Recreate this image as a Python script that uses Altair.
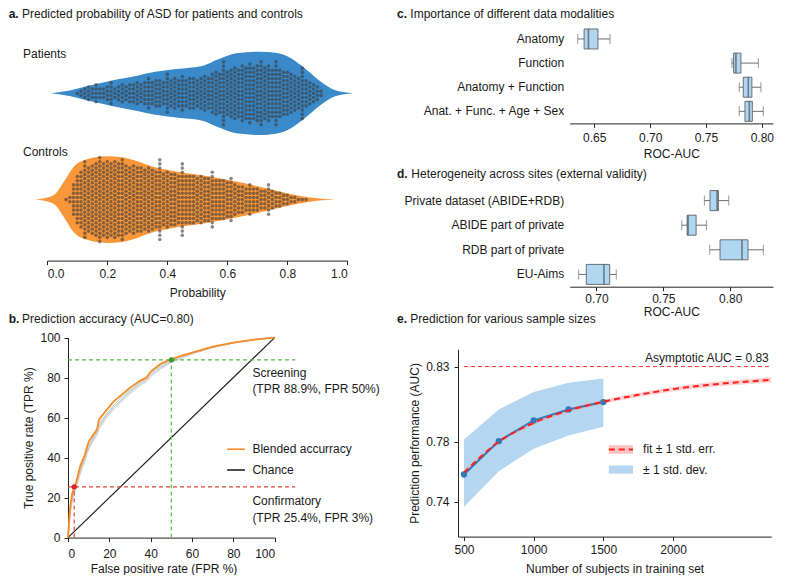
import altair as alt
import pandas as pd

FONT = "Liberation Sans"
INK = "#1a1a1a"
BLUE = "#3a89c9"
ORANGE = "#f9973a"

# ---------------- panel a : predicted probability (violin + swarm) ----------------
BIN_STEP = 0.0125
PAT_FIRST_BIN = 0.10
PAT_COUNTS = [1, 2, 3, 4, 3, 5, 3, 3, 4, 6, 3, 4, 5, 4, 5, 5, 6, 5, 6, 8,
              6, 7, 7, 6, 10, 7, 8, 7, 9, 7, 8, 8, 7, 8, 9, 8, 10, 11, 10, 16,
              11, 12, 13, 12, 14, 13, 15, 13, 14, 16, 13, 14, 12, 16, 12, 11, 11, 10, 9, 8,
              13, 7, 6, 5, 4, 2]
CTL_FIRST_BIN = 0.0625
CTL_COUNTS = [1, 2, 8, 12, 14, 19, 16, 17, 18, 21, 18, 19, 18, 19, 18, 20, 17, 16, 17, 16,
              16, 15, 16, 15, 14, 20, 13, 14, 13, 13, 12, 18, 12, 12, 12, 11, 12, 11, 11, 14,
              10, 10, 10, 9, 11, 8, 7, 7, 6, 8, 6, 6, 5, 5, 8, 5, 4, 4, 3, 3,
              2, 2, 1, 1, 1]
PAT_V_X = [0.013, 0.074, 0.13, 0.19, 0.24, 0.30, 0.36, 0.43, 0.52, 0.57, 0.63, 0.71, 0.76, 0.80, 0.85, 0.91, 0.96, 1.02]
PAT_V_D = [0, 2.7, 7, 11, 14.3, 17.7, 21.5, 24.3, 27.7, 34, 40, 41.7, 40.5, 37, 27, 12, 3, 0]
CTL_V_X = [-0.04, 0.019, 0.058, 0.086, 0.13, 0.197, 0.25, 0.30, 0.35, 0.41, 0.52, 0.63, 0.74, 0.81, 0.87, 0.96]
CTL_V_D = [0, 4, 19, 32, 40, 43.3, 42.3, 38.3, 33, 29, 24, 18, 10.7, 5.7, 2.3, 0]
GROUPS = ["Patients", "Controls"]
PROB_TICKS = [0, 0.2, 0.4, 0.6, 0.8, 1.0]

# ---------------- panel b : ROC ----------------
B_FPR = [0, 1, 2, 4, 6, 8, 10, 12, 14, 15, 18, 22, 26, 30, 35, 38, 40, 45, 50, 55, 60, 70, 80, 90, 100]
B_BLEND = [0, 15, 22, 28, 36, 41, 48, 51, 54, 59, 63, 68, 71.5, 75, 78.5, 80, 83, 87, 89.3, 91, 92.5, 95.5, 97.5, 99, 100]
B_FOLDS = [
    [0, 12, 19, 26, 33, 39, 45, 49, 52, 55, 60, 65, 69, 73, 77, 79, 81, 85, 87.8, 90, 92, 95, 97.3, 99, 100],
    [0, 13, 20, 27, 34, 40, 46, 50, 53, 56, 61, 66, 70, 73.5, 77.5, 79.5, 82, 86, 88.5, 90.5, 92.3, 95.3, 97.5, 99, 100],
    [0, 11, 18, 25, 32, 38, 44, 48, 51, 54, 59, 64, 68, 72, 76, 78, 80.5, 84.5, 87.5, 89.8, 91.8, 95, 97.2, 98.8, 100],
    [0, 14, 21, 27, 35, 40, 46, 50, 53, 57, 61, 66, 70.5, 74, 78, 80, 82.5, 86.5, 88.8, 90.7, 92.3, 95.3, 97.5, 99, 100],
    [0, 12, 18, 26, 33, 38, 45, 49, 52, 55, 60, 64, 69, 72.5, 76.5, 78.5, 81, 85.5, 88, 90.3, 92, 95, 97.3, 99, 100],
    [0, 13, 19, 26, 34, 39, 45, 49, 53, 56, 60, 65, 69, 73, 77, 79, 81.5, 85.5, 88, 90.2, 92, 95.2, 97.4, 99, 100],
]
FOLD_COLORS = ["#a6cee3", "#b2df8a", "#cab2d6", "#9ecae1", "#c7e9c0", "#d4b9da"]
SCREEN_FPR, SCREEN_TPR = 50, 88.9
CONF_FPR, CONF_TPR = 3, 25.4
B_TICKS = [0, 20, 40, 60, 80, 100]

# ---------------- panel c / d : box plots ----------------
C_LABELS = ["Anatomy", "Function", "Anatomy + Function", "Anat. + Func. + Age + Sex"]
C_LO = [0.6352, 0.7732, 0.7798, 0.7798]
C_Q1 = [0.6409, 0.7747, 0.7834, 0.7849]
C_MED = [0.6448, 0.7768, 0.7879, 0.7888]
C_Q3 = [0.6533, 0.7813, 0.7911, 0.7915]
C_HI = [0.6641, 0.7969, 0.7992, 0.8013]
C_TICKS = [0.65, 0.70, 0.75, 0.80]

D_LABELS = ["Private dataset (ABIDE+RDB)", "ABIDE part of private", "RDB part of private", "EU-Aims"]
D_LO = [0.7807, 0.7638, 0.7847, 0.6867]
D_Q1 = [0.7849, 0.7678, 0.7924, 0.6924]
D_MED = [0.7902, 0.7685, 0.8088, 0.7056]
D_Q3 = [0.7912, 0.7745, 0.8133, 0.7099]
D_HI = [0.7989, 0.7822, 0.8248, 0.7148]
D_TICKS = [0.70, 0.75, 0.80]

# ---------------- panel e : sample sizes ----------------
E_N = [500, 750, 1000, 1250, 1500]
E_MEAN = [0.7582, 0.7804, 0.7942, 0.8015, 0.8064]
E_SD_LO = [0.7367, 0.7604, 0.7753, 0.7842, 0.7900]
E_SD_HI = [0.7815, 0.8015, 0.8131, 0.8193, 0.8220]
FIT_N = [500, 750, 1000, 1250, 1500, 1750, 2000, 2250, 2500, 2705]
FIT = [0.7595, 0.7800, 0.7925, 0.8008, 0.8066, 0.8112, 0.8150, 0.8178, 0.8198, 0.8212]
FIT_SE = [0.0012, 0.0012, 0.0012, 0.0012, 0.0013, 0.0014, 0.0015, 0.0016, 0.0017, 0.0018]
ASYMPTOTE = 0.83
E_XTICKS = [500, 1000, 1500, 2000]
E_YTICKS = [0.74, 0.78, 0.83]

BOX_FILL = "#b1d6f2"
BOX_EDGE = "#6a6f75"
MED_COL = "#4d5258"
GREEN_L, GREEN_D = "#55b848", "#2ca02c"
RED_L, RED_D = "#e2453c", "#d62728"
BLEND_COL = "#fb8c24"

# ---------------- panel frames (pixels inside one shared drawing area) ----------------
W, H = 765, 530
A_X, A_Y = (39.3, 339.3), (252.6, 18.9)
B_X, B_Y = (60.0, 266.7), (529.6, 329.6)
C_X, C_Y = (561.7, 765.0), (18.9, 115.4)
D_X, D_Y = (561.7, 765.0), (180.3, 278.7)
E_X, E_Y = (450.0, 763.3), (528.6, 341.3)


def title_layer(letter, text, lx, tx, y):
    l1 = alt.Chart(pd.DataFrame({"t": [letter]})).mark_text(
        fontWeight="bold", align="left", baseline="middle", fontSize=12, color=INK
    ).encode(x=alt.value(lx), y=alt.value(y), text="t:N")
    l2 = alt.Chart(pd.DataFrame({"t": [text]})).mark_text(
        align="left", baseline="middle", fontSize=12, color=INK
    ).encode(x=alt.value(tx), y=alt.value(y), text="t:N")
    return l1 + l2


# ======== panel a ========
vdf = pd.DataFrame([{"grp": "Patients", "prob": x, "d": d} for x, d in zip(PAT_V_X, PAT_V_D)] +
                   [{"grp": "Controls", "prob": x, "d": d} for x, d in zip(CTL_V_X, CTL_V_D)])
drows = []
for g, first, counts in (("Patients", PAT_FIRST_BIN, PAT_COUNTS), ("Controls", CTL_FIRST_BIN, CTL_COUNTS)):
    for i, n in enumerate(counts):
        for k in range(n):
            drows.append({"grp": g, "prob": round(first + i * BIN_STEP, 4), "k": k, "n": n})
ddf = pd.DataFrame(drows)

A_UNIT = 106.3  # px between the two group centres
XA_SCALE = alt.Scale(domain=[0, 1], range=list(A_X), nice=False)
XA = alt.X("prob:Q", scale=XA_SCALE,
           axis=alt.Axis(orient="bottom", offset=A_Y[0] - H, values=PROB_TICKS, format=".1f",
                         title="Probability", labelPadding=3.5, titlePadding=8))
YA_SCALE = alt.Scale(domain=[-0.574, 1.625], range=list(A_Y), nice=False, zero=False)
YA = alt.Y("yy:Q", scale=YA_SCALE, axis=None)


def violin_layer(grp, color):
    return alt.Chart(vdf).transform_filter(f"datum.grp == '{grp}'").transform_calculate(
        c="datum.grp == 'Patients' ? 1 : 0",
        top=f"datum.c + datum.d / {A_UNIT}",
        bot=f"datum.c - datum.d / {A_UNIT}",
    ).mark_area(interpolate="monotone", color=color, opacity=1).encode(
        x=XA, y=alt.Y("top:Q", scale=YA_SCALE, axis=None, stack=False), y2="bot:Q")


dots = alt.Chart(ddf).transform_calculate(
    yy=f"(datum.grp == 'Patients' ? 1 : 0) + (datum.k - (datum.n - 1) / 2) * {4.2 / A_UNIT}"
).mark_circle(size=13, color="#3a3a3a", opacity=0.6).encode(x=XA, y=YA)
alab = alt.Chart(pd.DataFrame({"prob": [-0.081, -0.081], "yy": [1.37, 0.445], "t": GROUPS})).mark_text(
    align="left", baseline="middle", fontSize=12, color=INK
).encode(x=XA, y=YA, text="t:N")
panel_a = alt.layer(violin_layer("Patients", BLUE), violin_layer("Controls", ORANGE), dots, alab,
                    title_layer("a.", "Predicted probability of ASD for patients and controls", 0.7, 14, 6.0))

# ======== panel b ========
XB = alt.X("x:Q", scale=alt.Scale(domain=[0, 100], range=list(B_X), nice=False),
           axis=alt.Axis(orient="bottom", offset=B_Y[0] - H, values=B_TICKS, title="False positive rate (FPR %)",
                         labelPadding=7, titlePadding=4, titleX=155.5))
YB = alt.Y("y:Q", scale=alt.Scale(domain=[0, 100], range=list(B_Y), nice=False),
           axis=alt.Axis(orient="left", offset=-B_X[0], values=B_TICKS, title="True positive rate (TPR %)",
                         labelPadding=4, titlePadding=4))
fold_layers = [
    alt.Chart(pd.DataFrame({"x": B_FPR, "y": curve})).mark_line(strokeWidth=0.8, color=col, opacity=0.9).encode(x=XB, y=YB)
    for curve, col in zip(B_FOLDS, FOLD_COLORS)
]
chance = alt.Chart(pd.DataFrame({"x": [0, 100], "y": [0, 100]})).mark_line(color="#222222", strokeWidth=1.2).encode(x=XB, y=YB)
blend = alt.Chart(pd.DataFrame({"x": B_FPR, "y": B_BLEND})).mark_line(color=BLEND_COL, strokeWidth=1.8).encode(x=XB, y=YB)


def guide_layer(fpr, tpr, color):
    df = pd.DataFrame({"x": [0, fpr], "x2": [110, fpr], "y": [tpr, 0], "y2": [tpr, tpr]})
    return alt.Chart(df).mark_rule(strokeDash=[4, 3], strokeWidth=1.2, color=color).encode(
        x=XB, x2="x2:Q", y=YB, y2="y2:Q")


def op_dot(fpr, tpr, color):
    return alt.Chart(pd.DataFrame({"x": [fpr], "y": [tpr]})).mark_circle(size=28, opacity=1, color=color).encode(x=XB, y=YB)


def leg_seg(y, color):
    return alt.Chart(pd.DataFrame({"x": [77], "x2": [85.6], "y": [y]})).mark_rule(strokeWidth=1.6, color=color).encode(
        x=XB, x2="x2:Q", y=YB)


btext = alt.Chart(pd.DataFrame({
    "x": [89.2] * 6,
    "y": [82.2, 74.2, 18.3, 10, 44.2, 33.8],
    "t": ["Screening", "(TPR 88.9%, FPR 50%)", "Confirmatory", "(TPR 25.4%, FPR 3%)", "Blended accurracy", "Chance"],
})).mark_text(align="left", baseline="middle", fontSize=12, color=INK).encode(x=XB, y=YB, text="t:N")
panel_b = alt.layer(*fold_layers, chance, guide_layer(SCREEN_FPR, SCREEN_TPR, GREEN_L),
                    guide_layer(CONF_FPR, CONF_TPR, RED_L), blend,
                    op_dot(SCREEN_FPR, SCREEN_TPR, GREEN_D), op_dot(CONF_FPR, CONF_TPR, RED_D),
                    leg_seg(44.2, BLEND_COL), leg_seg(33.8, "#222222"), btext,
                    title_layer("b.", "Prediction accuracy (AUC=0.80)", 0.7, 14, 311.3))


# ======== panels c / d ========
def box_panel(labels, lo, q1, med, q3, hi, domain, ticks, xr, yr, letter, text, tx, ty, lpad, tpad):
    df = pd.DataFrame({"label": labels, "lo": lo, "q1": q1, "med": med, "q3": q3, "hi": hi})
    sc = alt.Scale(domain=domain, range=list(xr), nice=False, zero=False)
    X = alt.X("lo:Q", scale=sc,
              axis=alt.Axis(orient="bottom", offset=yr[1] - H, values=ticks, format=".2f", title="ROC-AUC",
                            labelPadding=lpad, titlePadding=tpad))
    Y = alt.Y("label:N", sort=labels, scale=alt.Scale(range=list(yr), paddingInner=0, paddingOuter=0),
              axis=alt.Axis(orient="left", offset=-xr[0], title=None, domain=False, ticks=False, tickSize=0,
                            labelPadding=6))
    base = alt.Chart(df)
    whisk = base.mark_rule(color=BOX_EDGE, strokeWidth=1).encode(x=X, x2="hi:Q", y=Y)
    box = base.mark_bar(height=20, color=BOX_FILL, stroke=BOX_EDGE, strokeWidth=1).encode(
        x=alt.X("q1:Q", scale=sc), x2="q3:Q", y=Y)
    medt = base.mark_tick(size=20, thickness=1.6, color=MED_COL).encode(x=alt.X("med:Q", scale=sc), y=Y)
    cap_lo = base.mark_tick(size=10, thickness=1, color=BOX_EDGE).encode(x=X, y=Y)
    cap_hi = base.mark_tick(size=10, thickness=1, color=BOX_EDGE).encode(x=alt.X("hi:Q", scale=sc), y=Y)
    return alt.layer(whisk, box, medt, cap_lo, cap_hi, title_layer(letter, text, 389, tx, ty))


panel_c = box_panel(C_LABELS, C_LO, C_Q1, C_MED, C_Q3, C_HI, [0.628, 0.81], C_TICKS, C_X, C_Y,
                    "c.", "Importance of different data modalities", 402.3, 6.0, 5, 5)
panel_d = box_panel(D_LABELS, D_LO, D_Q1, D_MED, D_Q3, D_HI, [0.680, 0.832], D_TICKS, D_X, D_Y,
                    "d.", "Heterogeneity across sites (external validity)", 403.3, 166.0, 2.5, 2.5)

# ======== panel e ========
YE_SCALE = alt.Scale(domain=[0.7169, 0.8415], range=list(E_Y), nice=False, zero=False)
XE = alt.X("n:Q", scale=alt.Scale(domain=[457, 2705], range=list(E_X), nice=False, zero=False),
           axis=alt.Axis(orient="bottom", offset=E_Y[0] - H, values=E_XTICKS, format="d",
                         title="Number of subjects in training set", labelPadding=4, titlePadding=8))
YE = alt.Y("auc:Q", scale=YE_SCALE,
           axis=alt.Axis(orient="left", offset=-E_X[0], values=E_YTICKS, format=".2f",
                         title="Prediction performance (AUC)", labelPadding=5, titlePadding=4))
edf = pd.DataFrame({"n": E_N, "auc": E_MEAN, "lo": E_SD_LO, "hi": E_SD_HI})
fdf = pd.DataFrame({"n": FIT_N, "auc": FIT,
                    "lo": [f - s for f, s in zip(FIT, FIT_SE)], "hi": [f + s for f, s in zip(FIT, FIT_SE)]})
sd_band = alt.Chart(edf).mark_area(color="#b4d6f1", opacity=1).encode(
    x=XE, y=alt.Y("lo:Q", scale=YE_SCALE), y2="hi:Q")
se_band = alt.Chart(fdf).mark_area(color="#ff9a9a", opacity=0.45, interpolate="monotone").encode(
    x=XE, y=alt.Y("lo:Q", scale=YE_SCALE), y2="hi:Q")
mean_line = alt.Chart(edf).mark_line(color="#2f7cbb", strokeWidth=2).encode(x=XE, y=YE)
mean_pts = alt.Chart(edf).mark_circle(color="#2f7cbb", size=40, opacity=1).encode(x=XE, y=YE)
fit_line = alt.Chart(fdf).mark_line(color="#ff1f1f", strokeWidth=2, strokeDash=[6, 4],
                                    interpolate="monotone").encode(x=XE, y=YE)
asym = alt.Chart(pd.DataFrame({"n": [500], "n2": [2705], "auc": [ASYMPTOTE]})).mark_rule(
    color="#ff3030", strokeWidth=1, strokeDash=[4, 3]).encode(x=XE, x2="n2:Q", y=YE)
asym_t = alt.Chart(pd.DataFrame({"n": [2687], "auc": [0.836], "t": [f"Asymptotic AUC = {ASYMPTOTE:.2f}"]})).mark_text(
    align="right", baseline="middle", fontSize=12, color=INK).encode(x=XE, y=YE, text="t:N")


def leg_rect(lo, hi, color):
    return alt.Chart(pd.DataFrame({"n": [1539], "n2": [1713], "lo": [lo], "hi": [hi]})).mark_rect(color=color).encode(
        x=XE, x2="n2:Q", y=alt.Y("lo:Q", scale=YE_SCALE), y2="hi:Q")


leg_line = alt.Chart(pd.DataFrame({"n": [1539], "n2": [1713], "auc": [0.7749]})).mark_rule(
    color="#ff1f1f", strokeWidth=2, strokeDash=[6, 4]).encode(x=XE, x2="n2:Q", y=YE)
leg_t = alt.Chart(pd.DataFrame({"n": [1785, 1785], "auc": [0.7749, 0.7615],
                                "t": ["fit \u00b1 1 std. err.", "\u00b1 1 std. dev."]})).mark_text(
    align="left", baseline="middle", fontSize=12, color=INK).encode(x=XE, y=YE, text="t:N")
panel_e = alt.layer(sd_band, se_band, mean_line, mean_pts, fit_line, asym, asym_t,
                    leg_rect(0.7720, 0.7778, "#ffc4c4"), leg_rect(0.7588, 0.7642, "#b4d6f1"), leg_line, leg_t,
                    title_layer("e.", "Prediction for various sample sizes", 389, 402.3, 311.3))

# ======== one drawing area, each panel with its own scales and axes ========
chart = alt.layer(panel_a, panel_b, panel_c, panel_d, panel_e).resolve_scale(
    x="independent", y="independent"
).properties(width=W, height=H, padding=0).configure_view(strokeWidth=0).configure_axis(
    labelFont=FONT, titleFont=FONT, labelFontSize=12, titleFontSize=12, titleFontWeight="normal",
    labelColor=INK, titleColor=INK, domainColor="#222222", tickColor="#222222", tickSize=4,
    grid=False, domainWidth=1, tickWidth=1
).configure_text(font=FONT)

chart.save("out.html", embed_options={"renderer": "svg", "actions": False})
